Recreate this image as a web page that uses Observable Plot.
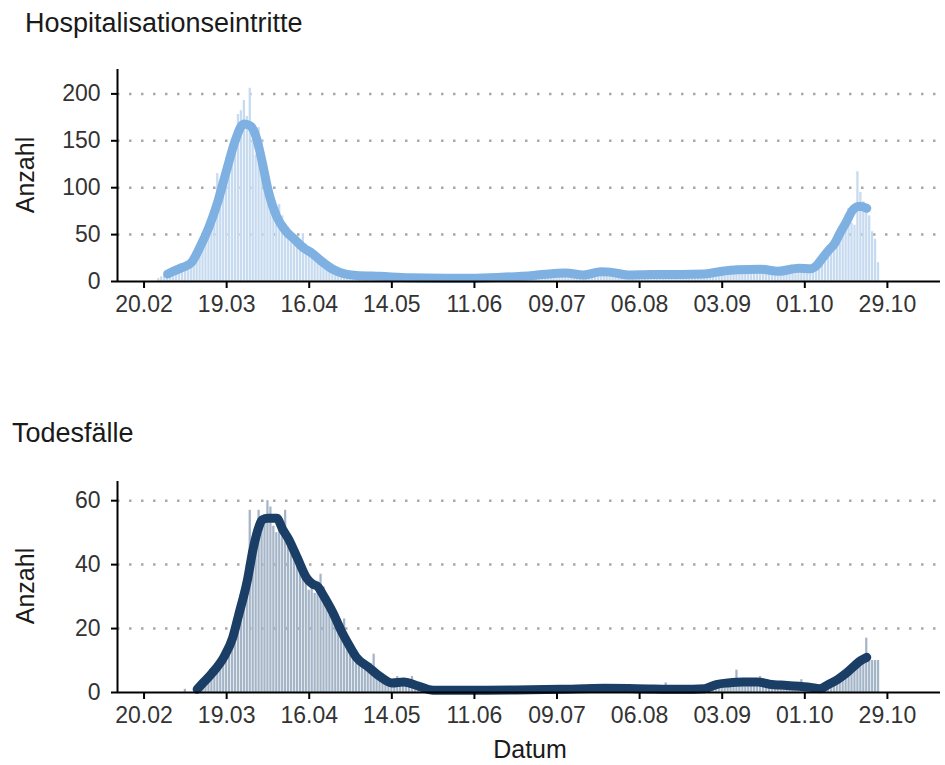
<!DOCTYPE html>
<html><head><meta charset="utf-8">
<script src="https://cdn.jsdelivr.net/npm/d3@7"></script>
<script src="https://cdn.jsdelivr.net/npm/@observablehq/plot@0.6"></script>
<style>
body{margin:0;background:#fff;}
#wrap{position:relative;width:945px;height:765px;font-family:"Liberation Sans",Arial,sans-serif;color:#1a1a1a;overflow:hidden;background:#fff}
.t{position:absolute;white-space:nowrap;line-height:1;z-index:2;}
.rot{position:absolute;white-space:nowrap;line-height:1;z-index:2;transform:translate(-50%,-50%) rotate(-90deg);}
.plot{position:absolute;left:0;z-index:1;}
</style></head><body>
<div id="wrap">
  <div class="plot" id="p1" style="top:0px"></div>
  <div class="plot" id="p2" style="top:440px"></div>
  <div class="t" style="left:25px;top:10px;font-size:27px">Hospitalisationseintritte</div>
  <div class="t" style="left:12px;top:420px;font-size:27px">Todesfälle</div>
  <div class="rot" style="left:25px;top:175px;font-size:25px">Anzahl</div>
  <div class="rot" style="left:25px;top:586px;font-size:25px">Anzahl</div>
  <div class="t" style="left:530px;top:737px;font-size:25px;transform:translateX(-50%)">Datum</div>
</div>
<script>
// ---- data ----
const xDomain = ["2020-02-11", "2020-11-16"];
const xTickDates = ["2020-02-20","2020-03-19","2020-04-16","2020-05-14","2020-06-11","2020-07-09","2020-08-06","2020-09-03","2020-10-01","2020-10-29"];

const hospYTicks = [0, 50, 100, 150, 200];
const hospYMax = 226;
const hospStart = "2020-02-25";
const hospDaily = [
  3,5,6,8,7,9,12,
  13,14,16,17,19,22,28,
  34,42,50,58,62,68,115,
  98,112,132,136,128,138,178,
  182,193,176,206,150,135,164,
  150,128,112,98,80,66,82,
  70,62,58,48,40,36,44,
  51,40,36,33,25,20,26,
  24,20,17,15,11,9,12,
  10,9,8,7,5,4,7,
  6,7,6,5,4,3,6,
  6,5,6,5,3,3,5,
  5,4,3,4,2,2,4,
  4,4,3,3,2,2,3,
  4,3,3,3,2,2,3,
  4,3,4,3,2,2,4,
  4,5,4,5,3,3,5,
  6,5,6,6,4,4,7,
  7,8,7,8,5,5,9,
  10,10,11,9,7,6,8,
  8,7,8,7,5,5,8,
  10,11,12,13,9,8,11,
  10,9,8,8,5,5,8,
  8,8,9,8,6,5,9,
  8,9,8,9,6,5,8,
  9,8,9,8,6,5,9,
  8,9,8,9,6,6,10,
  11,12,12,13,9,9,14,
  14,15,14,16,10,9,14,
  13,14,13,12,8,8,12,
  12,13,14,15,11,10,16,
  15,16,17,15,11,12,22,
  25,30,34,38,30,32,52,
  58,62,68,78,62,60,117,
  95,85,75,70,53,45,20
];
const hospAvgDates = ["2020-02-28","2020-03-01","2020-03-04","2020-03-07","2020-03-10","2020-03-13","2020-03-16","2020-03-19","2020-03-22","2020-03-24","2020-03-25","2020-03-27","2020-03-29","2020-03-31","2020-04-02","2020-04-05","2020-04-08","2020-04-11","2020-04-14","2020-04-17","2020-04-20","2020-04-24","2020-04-28","2020-05-02","2020-05-10","2020-05-20","2020-06-01","2020-06-10","2020-06-20","2020-07-01","2020-07-08","2020-07-12","2020-07-18","2020-07-24","2020-07-27","2020-08-02","2020-08-10","2020-08-20","2020-08-28","2020-09-03","2020-09-08","2020-09-16","2020-09-22","2020-09-29","2020-10-03","2020-10-05","2020-10-07","2020-10-09","2020-10-11","2020-10-13","2020-10-15","2020-10-17","2020-10-19","2020-10-20","2020-10-22"];
const hospAvgValues = [8,11,15,20,37,58,85,119,151,166,168,166,154,128,98,69,54,45,36,30,22,13,8,6.5,5.5,4,3.5,3.5,4.5,6.5,8.5,9,7,10.5,10,7,7.5,7.5,8,11,12.5,13,11,14,13.5,17,25,33,40,52,63,75,80,80,78];

const deathYTicks = [0, 20, 40, 60];
const deathYMax = 66;
const deathStart = "2020-03-05";
const deathDaily = [
  1,0,0,0,1,1,2,
  3,4,5,7,8,9,11,
  14,15,19,22,25,29,33,
  40,57,48,50,57,52,55,
  60,58,52,50,54,51,57,
  48,45,42,40,39,37,36,
  32,34,31,33,37,33,28,
  26,25,22,20,19,23,15,
  13,12,11,10,10,9,8,
  9,12,6,5,4,4,3,
  3,4,5,3,3,4,3,
  5,2,2,1,2,1,1,
  0,1,0,1,1,0,1,
  0,1,1,0,1,0,1,
  1,0,0,1,1,1,0,
  1,0,1,0,1,1,1,
  0,1,1,0,1,0,1,
  0,1,1,0,1,1,0,
  1,1,1,0,1,2,1,
  2,1,1,0,1,2,1,
  1,2,1,0,2,1,1,
  2,1,1,1,2,1,1,
  0,1,2,1,1,1,0,
  1,1,3,1,0,1,1,
  1,0,1,1,1,0,1,
  1,0,1,1,1,2,2,
  3,2,2,3,4,7,3,
  3,2,3,3,4,3,5,
  2,3,2,2,1,2,3,
  2,1,2,2,1,2,4,
  1,1,1,1,2,1,2,
  2,3,2,3,4,4,5,
  5,6,8,7,8,9,11,
  17,11,10,10,10
];
const deathAvgDates = ["2020-03-09","2020-03-11","2020-03-14","2020-03-18","2020-03-21","2020-03-23","2020-03-26","2020-03-28","2020-03-30","2020-03-31","2020-04-02","2020-04-05","2020-04-07","2020-04-09","2020-04-12","2020-04-15","2020-04-17","2020-04-19","2020-04-21","2020-04-24","2020-04-27","2020-04-30","2020-05-02","2020-05-06","2020-05-10","2020-05-14","2020-05-18","2020-05-23","2020-05-28","2020-06-10","2020-06-25","2020-07-10","2020-07-25","2020-08-05","2020-08-20","2020-08-28","2020-09-01","2020-09-05","2020-09-10","2020-09-15","2020-09-19","2020-09-25","2020-10-03","2020-10-06","2020-10-09","2020-10-12","2020-10-15","2020-10-18","2020-10-20","2020-10-22"];
const deathAvgValues = [1,3,6,11,17,24,35,45,52,54,54.5,54.5,51,48,42,36,34,33,30,25,19,14,11,8,5,3,3.3,2,0.7,0.7,0.8,1,1.3,1.2,1,1.2,2.5,3,3.3,3.3,2.6,2.2,1.6,1.2,2.5,4,6,8.5,10,11];

// ---- drawing ----
const utc = s => new Date(s + "T00:00:00Z");

function panel({daily, start, avgDates, avgValues, yMax, yTicks, barFill, lineStroke, height, marginTop, marginBottom}) {
  const s = utc(start);
  const bars = daily.map((v, i) => ({date: d3.utcDay.offset(s, i), value: v}));
  const line = avgDates.map((d, i) => ({date: utc(d), value: avgValues[i]}));
  const x0 = utc(xDomain[0]);
  return Plot.plot({
    width: 945, height, marginTop, marginBottom, marginLeft: 117, marginRight: 5,
    style: {fontFamily: "'Liberation Sans', Arial, sans-serif", fontSize: "23px", color: "#000", background: "transparent", overflow: "visible"},
    x: {type: "utc", domain: xDomain.map(utc)},
    y: {domain: [0, yMax]},
    marks: [
      Plot.ruleY(yTicks.filter(t => t > 0), {stroke: "#a8a8a8", strokeWidth: 2.5, strokeDasharray: "2.5,9.5"}),
      Plot.rect(bars, {x1: d => d3.utcHour.offset(d.date, -12), x2: d => d3.utcHour.offset(d.date, 12), y1: 0, y2: "value", fill: barFill, insetLeft: 0.35, insetRight: 0.35}),
      Plot.line(line, {x: "date", y: "value", stroke: lineStroke, strokeWidth: 9, curve: "monotone-x", strokeLinejoin: "round", strokeLinecap: "round"}),
      Plot.ruleX([x0], {stroke: "#000", strokeWidth: 2}),
      Plot.ruleY([0], {stroke: "#000", strokeWidth: 2}),
      Plot.axisX({ticks: xTickDates.map(utc), tickFormat: d3.utcFormat("%d.%m"), tickSize: 7, tickPadding: 7, strokeWidth: 2, label: null, fill: "#333"}),
      Plot.axisY({ticks: yTicks, tickSize: 6, tickPadding: 11, strokeWidth: 2, label: null, fill: "#333"})
    ]
  });
}

document.getElementById("p1").append(panel({
  daily: hospDaily, start: hospStart, avgDates: hospAvgDates, avgValues: hospAvgValues,
  yMax: hospYMax, yTicks: hospYTicks, barFill: "#c6daf0", lineStroke: "#7eb0e2",
  height: 330, marginTop: 69, marginBottom: 49
}));
document.getElementById("p2").append(panel({
  daily: deathDaily, start: deathStart, avgDates: deathAvgDates, avgValues: deathAvgValues,
  yMax: deathYMax, yTicks: deathYTicks, barFill: "#a5b5c8", lineStroke: "#1b3e66",
  height: 300, marginTop: 41, marginBottom: 48
}));
</script>
</body></html>
